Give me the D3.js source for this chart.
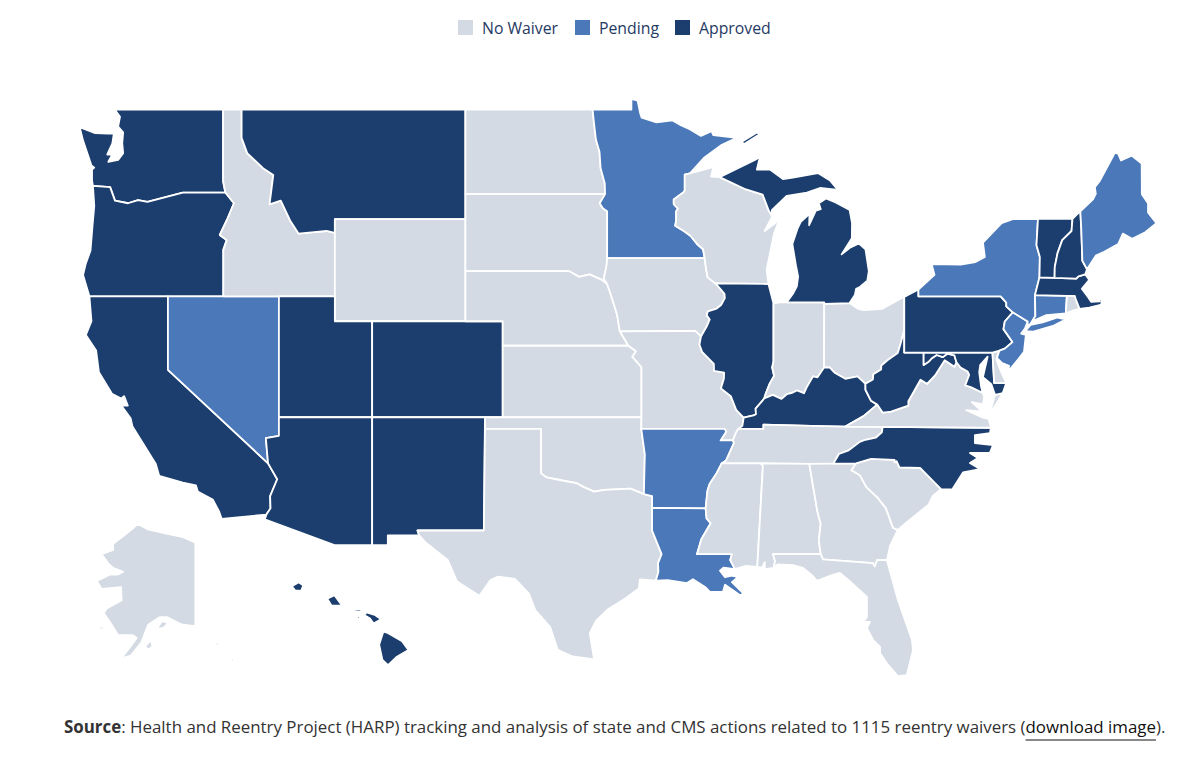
<!DOCTYPE html>
<html>
<head>
<meta charset="utf-8">
<script src="https://cdn.jsdelivr.net/npm/d3@7"></script>
<style>
  html, body { margin: 0; padding: 0; background: #fff; }
  text { font-family: "Open Sans", sans-serif; }
</style>
</head>
<body>
<div id="chart"></div>
<script>
const statusLabels = ["No Waiver", "Pending", "Approved"]
const statusColors = ["#d3dae3", "#4a78b8", "#1c3e6e"]

const noWaiverStates = ["AK", "ID", "WY", "ND", "SD", "NE", "KS", "OK", "TX", "IA", "MO", "WI", "IN", "OH",
    "TN", "MS", "AL", "GA", "SC", "FL", "VA", "DE", "RI"]
const pendingStates = ["MN", "NV", "AR", "LA", "NY", "NJ", "CT", "ME"]
const approvedStates = ["WA", "OR", "CA", "MT", "UT", "AZ", "NM", "CO", "IL", "MI", "KY", "WV", "PA", "MD",
    "NC", "VT", "NH", "MA", "HI"]

const sourceBold = "Source"
const sourceText = ": Health and Reentry Project (HARP) tracking and analysis of state and CMS actions related to 1115 reentry waivers ("
const sourceLink = "download image"
const sourceEnd = ")."

// shared borders, lon/lat
const rev = a => a.slice().reverse()

const mnNd = [[-96.56,45.94],[-96.58,46.35],[-96.80,46.90],[-96.86,47.50],[-97.05,47.93],[-97.15,48.50],[-97.23,49.00]]
const mnSd = [[-96.45,43.50],[-96.45,45.30],[-96.68,45.41],[-96.85,45.60],[-96.56,45.94]]
const iaSd = [[-96.45,42.49],[-96.63,42.70],[-96.48,43.22],[-96.45,43.50]]
const neSd = [[-98.50,43.00],[-97.95,42.77],[-97.40,42.87],[-96.73,42.65],[-96.45,42.49]]
const neIa = [[-96.45,42.49],[-96.28,42.12],[-96.10,41.70],[-95.92,41.27],[-95.85,40.95],[-95.77,40.59]]
const neMo = [[-95.77,40.59],[-95.31,40.00]]
const ksMo = [[-95.31,40.00],[-94.90,39.77],[-95.10,39.55],[-94.61,39.11]]
const mnNorth = [[-95.15,49.00],[-95.15,49.38],[-94.82,49.32],[-94.68,48.88],[-94.60,48.72],[-93.80,48.55],[-93.47,48.58],[-92.95,48.62],[-92.50,48.45],[-92.00,48.30],[-91.42,48.07],[-90.85,48.24],[-90.76,48.10],[-89.50,48.00]]
const mnShore = [[-90.30,47.75],[-91.27,47.27],[-92.01,46.71]]
const mnWi = [[-92.29,46.66],[-92.29,46.08],[-92.35,46.01],[-92.88,45.74],[-92.88,45.57],[-92.65,45.40],[-92.76,45.28],[-92.75,44.95],[-92.80,44.75],[-92.32,44.54],[-91.97,44.36],[-91.63,44.05],[-91.31,43.85],[-91.22,43.50]]
const wiNorth = [[-92.01,46.71],[-91.20,46.86],[-90.75,46.95],[-90.88,46.59],[-90.42,46.57]]
const wiMi = [[-89.09,46.14],[-88.11,45.92],[-87.80,45.35],[-87.60,45.10]]
const wiLake = [[-88.00,44.55],[-87.40,44.87],[-87.05,45.28],[-87.50,44.46],[-87.70,43.75],[-87.90,43.05],[-87.80,42.49]]
const iaWi = [[-91.22,43.50],[-91.14,43.05],[-91.06,42.75],[-90.64,42.51]]
const iaIl = [[-90.64,42.51],[-90.42,42.33],[-90.16,42.10],[-90.14,41.93],[-90.34,41.65],[-90.58,41.51],[-91.05,41.40],[-91.11,41.24],[-90.95,41.07],[-91.10,40.80],[-91.42,40.38]]
const moIl = [[-91.42,40.38],[-91.50,40.05],[-91.36,39.75],[-90.73,39.25],[-90.72,38.96],[-90.18,38.89],[-90.19,38.63],[-90.35,38.22],[-89.82,37.90],[-89.52,37.30],[-89.13,36.98]]
const moKy = [[-89.13,36.98],[-89.20,36.63],[-89.42,36.50]]
const moTn = [[-89.42,36.50],[-89.54,36.34],[-89.71,36.00]]
const arTn = [[-89.71,36.00],[-89.65,35.90],[-90.07,35.13],[-90.31,35.00]]
const arMs = [[-90.31,35.00],[-90.59,34.55],[-90.95,34.10],[-91.07,33.80],[-91.17,33.00]]
const laMs = [[-91.17,33.00],[-91.12,32.55],[-90.90,32.33],[-91.40,31.60],[-91.63,30.92]]
const pearl = [[-89.76,30.92],[-89.85,30.65],[-89.60,30.23]]
const ohioIl = [[-89.13,36.98],[-88.60,37.08],[-88.47,37.13],[-88.49,37.37],[-88.13,37.70],[-88.03,37.80]]
const ohioIn = [[-88.03,37.80],[-87.57,37.95],[-87.10,37.78],[-86.82,37.98],[-86.52,38.04],[-86.27,38.14],[-85.90,38.02],[-85.75,38.27],[-85.41,38.73],[-85.17,38.69],[-84.82,39.10]]
const ohioKy = [[-84.82,39.10],[-84.51,39.10],[-84.23,38.87],[-83.68,38.63],[-83.03,38.73],[-82.60,38.42]]
const ohioWv = [[-82.60,38.42],[-82.20,38.60],[-82.18,38.82],[-81.76,39.02],[-81.75,39.18],[-81.42,39.40],[-80.87,39.70],[-80.72,40.07],[-80.52,40.64]]
const ilIn = [[-87.53,41.71],[-87.53,39.35],[-87.60,39.10],[-87.50,38.75],[-87.75,38.40],[-87.95,38.00],[-88.03,37.80]]
const kyWv = [[-81.97,37.54],[-82.30,37.70],[-82.60,38.17],[-82.60,38.42]]
const kyVa = [[-81.97,37.54],[-82.70,37.05],[-83.68,36.60]]
const kyTn = [[-83.68,36.60],[-85.00,36.62],[-88.07,36.68],[-88.07,36.50],[-89.42,36.50]]
const tnVa = [[-83.68,36.60],[-81.68,36.59]]
const tnNc = [[-81.68,36.59],[-81.72,36.35],[-82.05,36.12],[-82.60,36.03],[-82.90,35.94],[-83.50,35.57],[-84.02,35.41],[-84.32,34.99]]
const vaNc = [[-81.68,36.59],[-75.87,36.55]]
const ncSc = [[-83.11,35.00],[-82.30,35.20],[-81.04,35.15],[-81.04,35.05],[-80.93,35.10],[-80.78,34.82],[-79.67,34.80],[-78.55,33.86]]
const ncCoast = [[-78.55,33.86],[-77.95,33.85],[-77.37,34.60],[-76.46,34.75],[-77.00,35.02],[-76.57,35.24],[-77.00,35.46],[-75.93,35.46],[-75.76,35.80],[-76.73,35.89],[-76.73,36.23],[-75.93,36.32],[-75.87,36.55]]
const gaSc = [[-83.11,35.00],[-83.35,34.70],[-82.90,34.48],[-82.55,33.95],[-81.95,33.48],[-81.50,33.00],[-81.12,32.12],[-80.87,32.03]]
const scCoast = [[-78.55,33.86],[-79.00,33.55],[-79.20,33.18],[-79.90,32.70],[-80.45,32.33],[-80.87,32.03]]
const gaCoast = [[-80.87,32.03],[-81.28,31.30],[-81.45,30.64]]
const gaFl = [[-81.45,30.64],[-81.98,30.64],[-82.10,30.35],[-82.20,30.50],[-84.88,30.68]]
const gaAl = [[-85.00,30.92],[-85.10,31.55],[-85.00,32.30],[-85.18,32.87],[-85.61,34.98]]
const flAl = [[-85.00,30.92],[-87.56,30.92],[-87.45,30.60],[-87.52,30.28]]
const flCoast = [[-87.29,30.45],[-86.49,30.41],[-85.95,30.28],[-85.47,29.95],[-85.20,29.68],[-84.40,29.95],[-83.97,30.05],[-83.33,29.58],[-82.52,28.93],[-82.52,27.98],[-82.73,27.75],[-82.36,27.75],[-82.52,27.46],[-82.20,26.90],[-81.82,26.56],[-81.82,26.27],[-81.39,25.69],[-80.86,25.15],[-80.38,25.20],[-80.05,26.40],[-80.11,26.90],[-80.86,28.79],[-81.45,30.64]]
const alCoast = [[-87.52,30.28],[-88.00,30.23],[-88.00,30.55],[-88.15,30.30],[-88.40,30.33]]
const msCoast = [[-89.60,30.23],[-89.00,30.38],[-88.40,30.33]]
const laCoast = [[-90.20,30.30],[-90.40,30.15],[-90.13,29.85],[-89.76,29.93],[-89.44,29.85],[-89.76,29.62],[-89.15,29.10],[-89.30,29.00],[-90.13,29.50],[-90.24,29.17],[-90.94,29.17],[-91.20,29.40],[-91.85,29.76],[-92.17,29.58],[-93.20,29.72],[-93.84,29.69]]
const laTx = [[-94.04,33.02],[-94.04,31.99],[-93.53,30.92],[-93.72,30.50],[-93.70,30.10],[-93.84,29.69]]
const redRiver = [[-94.48,33.64],[-95.20,33.88],[-96.00,33.85],[-96.60,33.83],[-97.15,33.75],[-97.70,33.95],[-98.10,34.13],[-99.20,34.30],[-99.70,34.38],[-100.00,34.56]]
const rioGrande = [[-106.53,31.78],[-106.20,31.47],[-105.00,30.65],[-104.50,29.65],[-103.30,28.98],[-102.70,29.72],[-102.30,29.88],[-101.40,29.77],[-100.65,29.10],[-100.30,28.30],[-99.50,27.50],[-99.10,26.42],[-98.30,26.10],[-97.15,25.96]]
const txCoast = [[-97.15,25.96],[-97.38,27.20],[-97.05,27.80],[-96.40,28.35],[-95.50,28.85],[-94.75,29.33],[-94.70,29.75],[-93.84,29.69]]
const mtId = [[-111.05,44.48],[-111.50,44.55],[-112.30,44.50],[-113.00,44.45],[-113.45,44.95],[-113.95,45.70],[-114.55,45.56],[-114.35,46.65],[-114.90,46.90],[-115.75,47.45],[-116.05,48.00],[-116.05,49.00]]
const orId = [[-117.03,42.00],[-117.03,43.83],[-116.85,44.20],[-117.22,44.40],[-116.85,44.95],[-116.46,45.60],[-116.92,46.00]]
const columbia = [[-116.92,46.00],[-119.20,46.00],[-121.10,45.65],[-121.60,45.72],[-122.14,45.60],[-122.84,45.70],[-123.10,46.20],[-124.02,46.25]]
const orCoast = [[-123.95,45.50],[-124.05,44.70],[-124.15,43.80],[-124.40,43.30],[-124.55,42.84],[-124.21,42.00]]
const waCoast = [[-122.57,48.75],[-122.67,48.40],[-122.40,48.20],[-122.45,47.80],[-122.40,47.45],[-122.67,47.20],[-123.20,47.13],[-122.98,47.40],[-123.25,47.40],[-122.98,47.80],[-122.90,48.15],[-123.20,48.15],[-123.90,48.17],[-124.73,48.38],[-124.55,47.90],[-124.10,47.00],[-123.95,46.92],[-124.07,46.85],[-124.07,46.45],[-124.02,46.25]]
const colorado = [[-114.63,35.00],[-114.14,34.30],[-114.52,33.55],[-114.50,33.00],[-114.72,32.72]]
const caCoast = [[-117.25,32.85],[-117.60,33.40],[-118.40,33.75],[-118.50,34.03],[-119.20,34.15],[-120.47,34.45],[-120.65,34.97],[-121.90,36.60],[-122.00,36.96],[-122.50,37.50],[-122.15,37.50],[-122.35,37.90],[-122.50,37.80],[-123.00,38.00],[-123.70,38.90],[-123.85,39.80],[-124.40,40.44],[-124.10,41.00],[-124.21,42.00]]
const mdWv = [[-79.48,39.20],[-79.20,39.35],[-79.06,39.47],[-78.78,39.62],[-78.45,39.53],[-78.20,39.68],[-77.83,39.60],[-77.72,39.32]]
const vaWv = [[-77.72,39.32],[-77.83,39.13],[-78.35,39.40],[-78.87,38.77],[-79.30,38.42],[-79.65,38.59],[-80.30,37.68],[-80.30,37.50],[-81.23,37.24],[-81.68,37.20],[-81.97,37.54]]
const potomac = [[-76.32,38.04],[-76.95,38.28],[-77.25,38.35],[-77.04,38.79],[-77.12,38.93],[-77.50,39.10],[-77.72,39.32]]
const delaware = [[-75.35,42.00],[-75.05,41.75],[-75.05,41.60],[-74.70,41.36],[-75.13,40.99],[-75.20,40.68],[-74.72,40.15],[-75.13,39.88],[-75.42,39.80]]
const vtEast = [[-71.50,45.01],[-71.55,44.55],[-72.05,44.20],[-72.30,43.70],[-72.45,43.15],[-72.46,42.73]]
const vtWest = [[-73.27,42.75],[-73.25,43.55],[-73.43,44.00],[-73.35,45.01]]

const stateShapes = {
    WA: [[...rev(columbia), [-117.04,46.42], [-117.04,49.00], [-122.84,49.00], ...waCoast]],
    OR: [[[-124.21,42.00], ...orId, ...columbia, ...orCoast]],
    CA: [[[-124.21,42.00], [-120.00,42.00], [-120.00,39.00], ...colorado, [-117.12,32.53], ...caCoast]],
    NV: [[[-120.00,42.00], [-114.05,42.00], [-114.05,36.20], [-114.75,36.10], [-114.63,35.00], [-120.00,39.00]]],
    ID: [[[-117.04,49.00], [-116.05,49.00], ...rev(mtId), [-111.05,42.00], ...orId, [-117.04,46.42]]],
    MT: [[[-116.05,49.00], [-104.05,49.00], [-104.05,45.00], [-111.05,45.00], ...mtId]],
    WY: [[[-111.05,45.00], [-104.05,45.00], [-104.05,41.00], [-111.05,41.00]]],
    UT: [[[-114.05,42.00], [-111.05,42.00], [-111.05,41.00], [-109.05,41.00], [-109.05,37.00], [-114.05,37.00]]],
    AZ: [[[-114.05,37.00], [-109.05,37.00], [-109.05,31.33], [-111.07,31.33], [-114.81,32.50], ...rev(colorado), [-114.75,36.10], [-114.05,36.20]]],
    CO: [[[-109.05,41.00], [-102.05,41.00], [-102.05,37.00], [-109.05,37.00]]],
    NM: [[[-109.05,37.00], [-103.00,37.00], [-103.06,32.00], [-106.62,32.00], [-106.53,31.78], [-108.21,31.78], [-108.21,31.33], [-109.05,31.33]]],
    ND: [[[-104.05,49.00], ...rev(mnNd), [-104.05,45.94]]],
    SD: [[[-104.05,45.94], ...rev(mnSd), ...rev(iaSd), ...rev(neSd), [-104.05,43.00]]],
    NE: [[[-104.05,43.00], ...neSd, ...neIa, ...neMo, [-102.05,40.00], [-102.05,41.00], [-104.05,41.00]]],
    KS: [[[-102.05,40.00], ...ksMo, [-94.61,37.00], [-102.05,37.00]]],
    OK: [[[-103.00,37.00], [-94.61,37.00], [-94.62,36.50], [-94.43,35.39], ...redRiver, [-100.00,36.50], [-103.00,36.50]]],
    TX: [[[-103.00,36.50], [-100.00,36.50], ...rev(redRiver), [-94.04,33.55], ...laTx, ...rev(txCoast), ...rev(rioGrande), [-106.62,32.00], [-103.06,32.00]]],
    MN: [[[-97.23,49.00], ...mnNorth, ...mnShore, ...mnWi, ...mnSd, ...mnNd]],
    IA: [[[-96.45,43.50], ...iaWi, ...iaIl, [-91.73,40.61], ...rev(neIa), ...iaSd]],
    MO: [[[-95.77,40.59], [-91.73,40.61], ...moIl, ...moKy, ...moTn, [-90.37,36.00], [-90.07,36.38], [-90.15,36.50], [-94.62,36.50], [-94.61,37.00], ...rev(ksMo), ...rev(neMo)]],
    AR: [[[-94.62,36.50], [-90.15,36.50], [-90.07,36.38], [-90.37,36.00], ...arTn, ...arMs, [-94.04,33.02], [-94.04,33.55], [-94.48,33.64], [-94.43,35.39]]],
    LA: [[[-94.04,33.02], ...laMs, ...pearl, ...laCoast, ...rev(laTx)]],
    WI: [[...wiNorth, ...wiMi, ...wiLake, ...rev(iaWi), ...rev(mnWi)]],
    IL: [[[-90.64,42.51], [-87.80,42.49], ...ilIn, ...rev(ohioIl), ...rev(moIl), ...rev(iaIl)]],
    IN: [[[-87.53,41.71], [-87.20,41.76], [-84.81,41.76], ...rev(ohioIn), ...rev(ilIn)]],
    OH: [[[-84.81,41.70], [-83.45,41.73], [-83.00,41.50], [-82.70,41.45], [-81.70,41.50], [-80.52,41.98], ...rev(ohioWv), ...rev(ohioKy)]],
    KY: [[...ohioKy, ...rev(kyWv), ...kyVa, ...kyTn, ...rev(moKy), ...ohioIl, ...ohioIn]],
    TN: [[...tnVa, ...tnNc, [-85.61,34.98], [-88.20,35.00], ...rev(arTn), ...rev(moTn), ...rev(kyTn)]],
    MS: [[[-88.20,35.00], ...arMs, ...laMs, ...pearl, ...msCoast, [-88.10,34.89]]],
    AL: [[[-85.61,34.98], [-88.20,35.00], [-88.10,34.89], [-88.40,30.33], ...rev(alCoast), ...rev(flAl), ...gaAl]],
    GA: [[[-84.32,34.99], ...gaSc, ...gaCoast, ...gaFl, ...gaAl]],
    FL: [[...gaFl, ...flAl, ...flCoast]],
    SC: [[...ncSc, ...scCoast, ...rev(gaSc)]],
    NC: [[...tnNc, ...ncSc, ...ncCoast, ...rev(vaNc)]],
    VA: [[...kyVa, ...tnVa, ...vaNc, [-76.00,36.93], [-76.35,37.00], [-77.20,37.30], [-76.35,37.25], [-76.90,37.65], [-76.30,37.55], [-76.24,37.89], ...potomac, ...vaWv],
         [[-75.24,38.03], [-75.65,37.95], [-75.95,37.15], [-75.60,37.55]]],
    WV: [[[-80.52,40.64], [-80.52,39.72], [-79.48,39.72], ...mdWv, ...vaWv, ...kyWv, ...ohioWv]],
    MD: [[[-79.48,39.72], [-75.79,39.72], [-75.70,38.46], [-75.05,38.45], [-75.24,38.03], [-75.65,37.95], [-75.85,38.40], [-76.30,38.70], [-76.20,39.05], [-76.05,39.55], [-76.45,39.20], [-76.50,38.90], [-76.40,38.30], ...potomac, ...rev(mdWv)]],
    DE: [[[-75.79,39.72], [-75.42,39.80], [-75.58,39.45], [-75.40,39.05], [-75.05,38.45], [-75.70,38.46]]],
    PA: [[[-80.52,41.98], [-79.76,42.27], [-79.76,42.00], ...delaware, [-75.79,39.72], [-79.48,39.72], [-80.52,39.72]]],
    NJ: [[[-73.90,40.99], ...delaware.slice(3), [-75.55,39.50], [-75.30,39.30], [-74.90,39.17], [-74.95,38.93], [-74.40,39.45], [-74.10,39.75], [-74.00,40.45], [-74.25,40.50], [-74.05,40.70]]],
    NY: [[[-79.76,42.27], [-78.90,42.85], [-79.05,43.27], [-77.50,43.25], [-76.70,43.35], [-76.20,43.55], [-76.30,44.10], [-75.30,44.85], [-74.70,45.00], [-73.35,45.01], ...rev(vtWest), [-73.51,42.05], [-73.49,41.21], [-73.66,41.00], [-73.78,40.88], [-73.92,40.80], [-73.90,40.99], [-74.70,41.36], [-75.05,41.60], [-75.05,41.75], [-75.35,42.00], [-79.76,42.00]],
         [[-74.03,40.60], [-73.75,40.85], [-73.10,40.95], [-72.30,41.15], [-71.87,41.07], [-72.50,40.82], [-73.60,40.58]]],
    CT: [[[-73.49,41.21], [-73.51,42.05], [-71.80,42.02], [-71.86,41.32], [-72.90,41.25], [-73.66,41.00]]],
    RI: [[[-71.80,42.02], [-71.38,42.02], [-71.33,41.90], [-71.20,41.65], [-71.12,41.50], [-71.40,41.45], [-71.86,41.32]]],
    MA: [[[-73.51,42.05], vtWest[0], vtEast[5], [-71.30,42.70], [-71.18,42.79], [-70.82,42.87], [-70.60,42.65], [-71.00,42.30], [-70.65,41.95], [-70.50,41.78], [-70.05,41.80], [-70.20,42.07], [-69.95,41.85], [-69.95,41.67], [-70.60,41.55], [-71.12,41.50], [-71.20,41.65], [-71.33,41.90], [-71.38,42.02], [-71.80,42.02]],
         [[-70.83,41.36], [-70.45,41.40], [-70.60,41.33]],
         [[-70.25,41.30], [-70.00,41.30], [-70.05,41.24]]],
    VT: [[...vtWest, ...vtEast]],
    NH: [[[-71.50,45.01], [-71.08,45.30], [-71.03,44.65], [-70.97,43.40], [-70.72,43.07], [-70.82,42.87], [-71.18,42.79], [-71.30,42.70], ...rev(vtEast)]],
    ME: [[[-71.08,45.30], [-70.40,45.75], [-70.25,45.95], [-70.30,46.20], [-70.05,46.42], [-69.23,47.46], [-69.05,47.43], [-68.90,47.18], [-68.33,47.36], [-67.79,47.07], [-67.78,45.94], [-67.45,45.60], [-67.45,45.25], [-67.00,44.85], [-67.60,44.50], [-68.30,44.25], [-68.80,44.45], [-69.05,44.05], [-69.80,43.75], [-70.25,43.60], [-70.72,43.07], [-70.97,43.40], [-71.03,44.65]]],
    MI: [[[-90.42,46.57], [-88.53,47.20], [-87.88,47.45], [-88.30,47.20], [-88.42,46.85], [-87.72,46.85], [-87.02,46.50], [-86.49,46.55], [-85.15,46.72], [-84.50,46.45], [-84.08,46.10], [-85.04,46.17], [-85.74,46.00], [-86.81,45.88], [-87.62,45.34], [-87.60,45.10], ...rev(wiMi).slice(1)],
         [[-84.72,45.78], [-85.10,45.60], [-85.00,45.38], [-85.26,45.32], [-85.62,44.77], [-85.60,45.20], [-86.07,44.90], [-86.25,44.63], [-86.52,44.05], [-86.33,43.23], [-86.21,42.78], [-86.28,42.40], [-86.49,42.10], [-86.82,41.76], [-84.81,41.76], [-84.81,41.70], [-83.45,41.73], [-83.17,42.05], [-83.10,42.30], [-82.90,42.37], [-82.50,42.62], [-82.42,43.00], [-82.60,43.85], [-82.95,44.07], [-83.40,43.92], [-83.88,43.65], [-83.33,44.27], [-83.32,44.85], [-83.45,45.35], [-84.20,45.63]],
         [[-89.25,47.85], [-88.40,48.20], [-88.30,48.12], [-89.10,47.78]]],
    AK: [[[-141.0,69.7],[-144.3,70.2],[-150.0,70.6],[-153.7,70.9],[-156.5,71.36],[-158.1,70.9],[-160.4,70.3],[-163.1,69.6],[-163.1,69.0],[-166.2,68.6],[-164.5,67.7],[-163.1,67.2],[-160.4,66.8],[-161.8,66.5],[-163.9,66.5],[-167.5,65.8],[-166.2,64.9],[-161.0,65.1],[-160.8,63.6],[-164.8,62.6],[-165.6,62.0],[-163.1,60.2],[-161.8,59.1],[-157.8,59.1],[-156.8,58.7],[-158.0,57.8],[-161.0,55.7],[-158.3,56.2],[-155.5,58.1],[-153.7,60.5],[-150.5,61.5],[-148.6,61.5],[-145.4,60.7],[-144.3,60.5],[-141.0,60.3]],
         [[-151.4,59.9],[-149.5,60.1],[-148.3,60.7],[-150.0,61.0]],
         [[-139.5,60.0],[-137.5,59.2],[-137.2,59.3]],
         [[-136.0,58.2],[-134.5,57.0],[-134.8,58.0]],
         [[-133.8,56.5],[-132.5,55.4],[-132.8,56.3]],
         [[-131.6,55.6],[-130.6,55.0],[-130.7,55.8]],
         [[-154.5,57.5],[-153.0,58.4],[-152.5,57.6],[-153.5,57.0]],
         [[-167.0,60.2],[-165.6,60.3],[-165.7,59.9],[-166.8,59.9]],
         [[-164.8,54.7],[-163.5,55.0],[-163.5,54.7]],
         [[-168.0,53.5],[-166.5,54.0],[-166.5,53.6]]],
    HI: [[[-155.88,20.26],[-155.73,20.22],[-155.08,19.87],[-154.81,19.52],[-155.30,19.25],[-155.68,18.91],[-155.92,19.12],[-156.06,19.73]],
         [[-156.70,20.92],[-156.60,21.03],[-156.25,20.93],[-155.98,20.75],[-156.30,20.58],[-156.45,20.78]],
         [[-157.30,21.10],[-156.72,21.17],[-156.87,21.05]],
         [[-157.05,20.90],[-156.85,20.85],[-156.95,20.74]],
         [[-158.28,21.57],[-157.97,21.71],[-157.65,21.30],[-157.95,21.30],[-158.10,21.30]],
         [[-159.79,22.07],[-159.50,22.23],[-159.30,22.10],[-159.40,21.88],[-159.65,21.90]]]
}

const width = 1200
const height = 759

const svg = d3.select("#chart").append("svg")
    .attr("width", width)
    .attr("height", height)
    .style("display", "block")

const color = d3.scaleOrdinal(statusLabels, statusColors)

const statusOf = {}
noWaiverStates.forEach(s => statusOf[s] = statusLabels[0])
pendingStates.forEach(s => statusOf[s] = statusLabels[1])
approvedStates.forEach(s => statusOf[s] = statusLabels[2])

// mercator, but planar so straight borders stay straight
const mainland = d3.geoMercator().scale(1068.6).translate([2406, 1161])
const alaska = d3.geoMercator().scale(213).translate([719.5, 909])
const hawaii = d3.geoMercator().scale(1340).translate([4029, 1115.6])

function planarPath(projection) {
    return d3.geoPath(d3.geoTransform({
        point: function(x, y) {
            const p = projection([x, y])
            this.stream.point(p[0], p[1])
        }
    }))
}

const pathFor = { main: planarPath(mainland), AK: planarPath(alaska), HI: planarPath(hawaii) }

const features = Object.keys(stateShapes).map(id => ({
    type: "Feature",
    id: id,
    geometry: { type: "MultiPolygon", coordinates: stateShapes[id].map(ring => [ring.concat([ring[0]])]) }
}))

svg.append("g").selectAll("path")
    .data(features)
    .join("path")
    .attr("d", d => (pathFor[d.id] || pathFor.main)(d))
    .style("fill", d => color(statusOf[d.id]))
    .style("stroke", "#fff")
    .style("stroke-width", 1.8)
    .style("stroke-linejoin", "round")

// legend
const legendX = [458, 575, 675]
const legend = svg.append("g").selectAll("g")
    .data(statusLabels)
    .join("g")
    .attr("transform", (d, i) => "translate(" + legendX[i] + ", 20)")

legend.append("rect")
    .attr("width", 15)
    .attr("height", 15)
    .style("fill", d => color(d))

legend.append("text")
    .attr("x", 24)
    .attr("y", 14)
    .style("font-size", "15.8px")
    .style("fill", "#1f3a64")
    .text(d => d)

// source line
const source = svg.append("text")
    .attr("x", 64)
    .attr("y", 733)
    .style("font-size", "16.9px")
    .style("fill", "#333")

source.append("tspan").style("font-weight", 700).text(sourceBold)
source.append("tspan").text(sourceText)
source.append("tspan").style("fill", "#111").text(sourceLink)
source.append("tspan").text(sourceEnd)

const linkStart = (sourceBold + sourceText).length
const linkNode = source.node()
const underlineX = linkNode.getStartPositionOfChar(linkStart).x
const underlineEnd = linkNode.getEndPositionOfChar(linkStart + sourceLink.length - 1).x

svg.append("line")
    .attr("x1", underlineX)
    .attr("x2", underlineEnd)
    .attr("y1", 740)
    .attr("y2", 740)
    .style("stroke", "#111")
    .style("stroke-width", 1)
</script>
</body>
</html>
